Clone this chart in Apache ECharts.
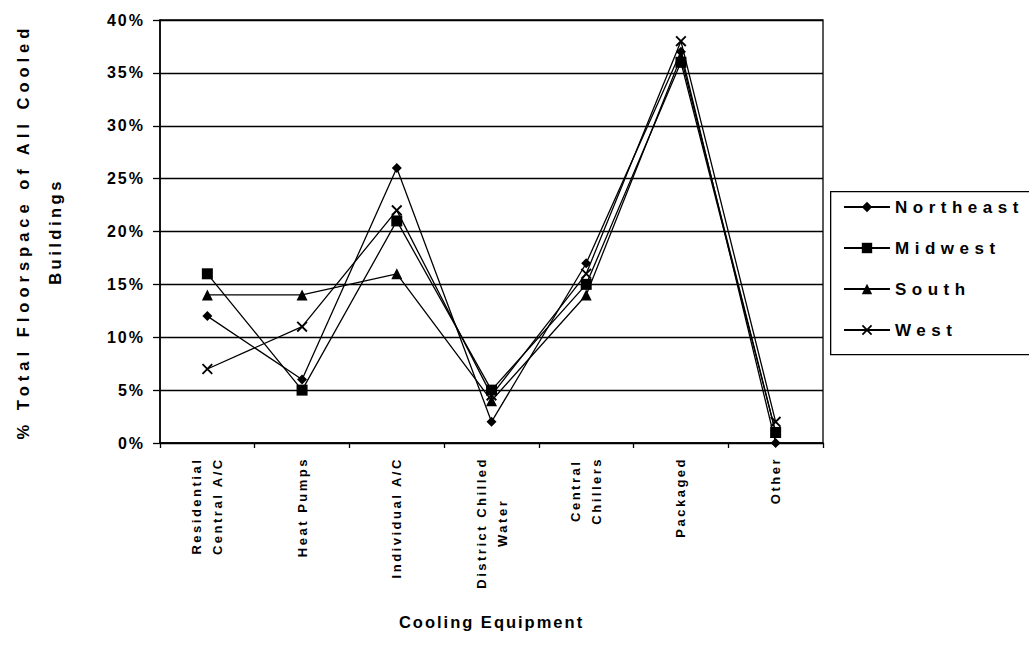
<!DOCTYPE html>
<html><head><meta charset="utf-8">
<script src="https://cdn.jsdelivr.net/npm/echarts@6/dist/echarts.min.js"></script>
<style>html,body{margin:0;padding:0;background:#fff}#c{width:1029px;height:647px}</style>
</head><body><div id="c"></div>
<script>
const categories = ["Residential\nCentral A/C","Heat Pumps","Individual A/C","District Chilled\nWater","Central\nChillers","Packaged","Other"];
const northeast = [12, 6, 26, 2, 17, 37, 0];
const midwest = [16, 5, 21, 5, 15, 36, 1];
const south = [14, 14, 16, 4, 14, 36.5, 1];
const west = [7, 11, 22, 4.5, 16, 38, 2];
const yTicks = [0, 5, 10, 15, 20, 25, 30, 35, 40];
const seriesNames = ['Northeast', 'Midwest', 'South', 'West'];

const FONT = '"Liberation Sans", Arial, sans-serif';
const XL_SIZE = 13, XL_SP = 2.5;
const xPath = 'path://M0,1.2L1.2,0L10,8.8L8.8,10ZM8.8,0L10,1.2L1.2,10L0,8.8Z';

// measure label widths so multi-line labels can be centred line by line, block ending at the axis
const mctx = document.createElement('canvas').getContext('2d');
mctx.font = 'bold ' + XL_SIZE + 'px "Liberation Sans", Arial, sans-serif';
function labelWidth(s) {
  return Math.max(...s.split('\n').map(l => mctx.measureText(l).width + XL_SP * l.length));
}
const xData = categories.map(c => ({value: c, textStyle: {align: 'center', padding: [0, labelWidth(c), 0, 0]}}));

function mk(name, data, symbol, size) {
  return {
    name, type: 'line', data, symbol, symbolSize: size,
    lineStyle: {color: '#000', width: 1.3},
    itemStyle: {color: '#000', borderColor: '#000', borderWidth: 0},
    z: 3, animation: false
  };
}
const chart = echarts.init(document.getElementById('c'), null, {renderer: 'svg'});
chart.setOption({
  backgroundColor: '#fff',
  animation: false,
  textStyle: {fontFamily: FONT},
  grid: {left: 160, right: 206, top: 20, bottom: 204, outerBoundsMode: 'none', containLabel: false,
    show: true, borderColor: '#000', borderWidth: 1.3, backgroundColor: 'transparent'},
  graphic: [{
    type: 'rect', left: 830, top: 191, z: 0,
    shape: {width: 210, height: 163},
    style: {fill: '#fff', stroke: '#000', lineWidth: 1.3}
  }],
  legend: {
    orient: 'vertical', left: 843, top: 197,
    padding: 0, itemWidth: 46, itemHeight: 13, itemGap: 21,
    textStyle: {fontFamily: FONT, fontWeight: 'bold', fontSize: 17, color: '#000', lineHeight: 20},
    data: seriesNames
  },
  xAxis: {
    type: 'category', data: xData, boundaryGap: true,
    name: 'Cooling Equipment', nameLocation: 'middle', nameGap: 170,
    nameTextStyle: {fontFamily: FONT, fontWeight: 'bold', fontSize: 16.5, color: '#000'},
    axisLine: {lineStyle: {color: '#000', width: 1.5}},
    axisTick: {show: true, length: 5, lineStyle: {color: '#000', width: 1.3}},
    axisLabel: {rotate: 90, fontFamily: FONT, fontWeight: 'bold', fontSize: XL_SIZE, color: '#000', margin: 14, lineHeight: 21}
  },
  yAxis: {
    type: 'value', min: 0, max: 40, interval: 5,
    name: '% Total Floorspace of All Cooled\nBuildings', nameLocation: 'middle', nameGap: 89, nameRotate: 90,
    nameTextStyle: {fontFamily: FONT, fontWeight: 'bold', fontSize: 16.5, color: '#000', lineHeight: 32},
    axisLine: {show: true, lineStyle: {color: '#000', width: 1.5}},
    axisTick: {show: true, length: 7, lineStyle: {color: '#000', width: 1.3}},
    splitLine: {show: true, lineStyle: {color: '#000', width: 1.3}},
    axisLabel: {fontFamily: FONT, fontWeight: 'bold', fontSize: 16, color: '#000', margin: 15,
      formatter: v => yTicks.includes(v) ? v + '%' : ''}
  },
  series: [
    mk(seriesNames[0], northeast, 'diamond', 10),
    mk(seriesNames[1], midwest, 'rect', 11),
    mk(seriesNames[2], south, 'triangle', 11),
    mk(seriesNames[3], west, xPath, 11)
  ]
});

// Letter spacing of the original (wide, "expanded" text)
function spacingFor(t) {
  t = t.trim();
  if (/^\d+%$/.test(t)) return 2;
  if (seriesNames.includes(t)) return 5.5;
  if (t.indexOf('Cooling') === 0) return 2;
  if (t.indexOf('% Total') >= 0) return 5;
  if (t === 'Buildings') return 3.5;
  return XL_SP;
}
function applySpacing() {
  document.querySelectorAll('#c svg text').forEach(el => {
    const sp = spacingFor(el.textContent || '') + 'px';
    if (el.style.letterSpacing !== sp) el.style.letterSpacing = sp;
  });
}
applySpacing();
chart.on('finished', applySpacing);
new MutationObserver(applySpacing).observe(document.getElementById('c'), {childList: true, subtree: true});
setTimeout(applySpacing, 50);
</script></body></html>
